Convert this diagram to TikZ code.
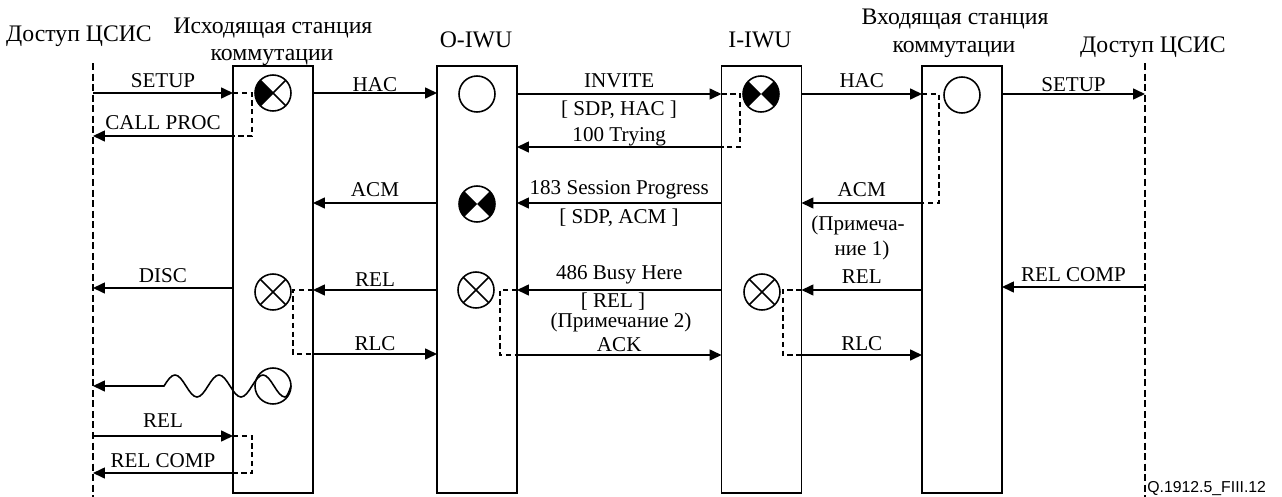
\documentclass[tikz,border=0pt]{standalone}
\usepackage{fontspec}
\setmainfont{Liberation Serif}
\newfontfamily\figfont{Liberation Sans}
\usetikzlibrary{arrows.meta,positioning,calc}
\newcommand\msgsize{\fontsize{12}{14}\selectfont}
\newcommand\ttlsize{\fontsize{13.5}{16}\selectfont}
\tikzset{
  stn/.style={draw,line width=1.1pt,minimum width=1.6cm,minimum height=8.54cm,inner sep=0pt,outer sep=0pt},
  msg/.style={line width=0.9pt,-{Triangle[length=0.24cm,width=0.22cm]}},
  lnk/.style={line width=0.75pt,dash pattern=on 3pt off 2pt},
  life/.style={line width=0.75pt,dash pattern=on 4pt off 2pt},
  lbl/.style={font=\msgsize,inner sep=0pt,text depth=0pt},
  ttl/.style={font=\ttlsize,inner sep=0pt,anchor=base},
  sig/.style={circle,draw,line width=0.9pt,minimum size=0.72cm,inner sep=0pt,outer sep=0pt,fill=white},
  sigx/.style={sig,path picture={\draw[black,line width=0.9pt] (path picture bounding box.north west)--(path picture bounding box.south east) (path picture bounding box.south west)--(path picture bounding box.north east);}},
  sigl/.style={sig,path picture={\fill[black] (path picture bounding box.center)--(path picture bounding box.north west)--(path picture bounding box.south west)--cycle;
    \draw[black,line width=0.9pt] (path picture bounding box.north west)--(path picture bounding box.south east) (path picture bounding box.south west)--(path picture bounding box.north east);}},
  siglr/.style={sig,path picture={\fill[black] (path picture bounding box.center)--(path picture bounding box.north west)--(path picture bounding box.south west)--cycle;
    \fill[black] (path picture bounding box.center)--(path picture bounding box.north east)--(path picture bounding box.south east)--cycle;}}
}
\begin{document}
\begin{tikzpicture}[x=0.02cm,y=-0.02cm]
\useasboundingbox (0,0) rectangle (1282,497);
\node[stn] (os) at (273,279.5) {};\node[stn] (oiwu) at (477,279.5) {};
\node[stn] (iiwu) at (761.5,279.5) {};\node[stn] (ts) at (962,279.5) {};
\coordinate (pl) at (93,63);\coordinate (pr) at (1145,63);
\draw[life] (pl)--(pl|-0,497);\draw[life] (pr)--(pr|-0,497);
\node[ttl] (tpl) at (79,41) {Доступ ЦСИС};\node[ttl] (tpr) at (1153,52) {Доступ ЦСИС};
\node[ttl] (tos) at (273,33) {Исходящая станция};\node[ttl] (tos2) at (272,60) {коммутации};
\node[ttl] (tts) at (955,25) {Входящая станция};\node[ttl] (tts2) at (954,52) {коммутации};
\node[ttl] (toi) at (476,48) {O-IWU};\node[ttl] (tii) at (760,48) {I-IWU};
\node[sigl] (c1) at (273,93) {};\node[sig] (c2) at (477,94) {};\node[siglr] (c3) at (761,94) {};\node[sig] (c4) at (962,95) {};
\node[siglr] (c5) at (477,204) {};
\node[sigx] (c6) at (273,292) {};\node[sigx] (c7) at (476,290) {};\node[sigx] (c8) at (762,292) {};
\node[sig] (c9) at (273,386) {};
\draw[msg] (pl|-0,93)--(os.west|-0,93) node[lbl,midway,above=0.1cm] {SETUP};
\draw[msg] (os.west|-0,136)--(pl|-0,136) node[lbl,midway,above=0.12cm] {CALL PROC};
\draw[msg] (os.east|-0,93)--(oiwu.west|-0,93) node[lbl,midway,above=0.02cm] {HAC};
\draw[msg] (oiwu.east|-0,94)--(iiwu.west|-0,94) node[lbl,midway,above=0.12cm] {INVITE};
\draw[msg] (iiwu.west|-0,147)--(oiwu.east|-0,147) node[lbl,midway,above=0.1cm] {100 Trying};
\draw[msg] (iiwu.east|-0,94)--(ts.west|-0,94) node[lbl,midway,above=0.12cm] {HAC};
\draw[msg] (ts.east|-0,94)--(pr|-0,94) node[lbl,midway,above=0.04cm] {SETUP};
\draw[msg] (oiwu.west|-0,203)--(os.east|-0,203) node[lbl,midway,above=0.12cm] {ACM};
\draw[msg] (iiwu.west|-0,203)--(oiwu.east|-0,203) node[lbl,midway,above=0.16cm] {183 Session Progress};
\draw[msg] (ts.west|-0,203)--(iiwu.east|-0,203) node[lbl,midway,above=0.12cm] {ACM};
\draw[msg] (os.west|-0,288)--(pl|-0,288) node[lbl,midway,above=0.1cm] {DISC};
\draw[msg] (oiwu.west|-0,290)--(os.east|-0,290) node[lbl,midway,above=0.06cm] {REL};
\draw[msg] (iiwu.west|-0,290)--(oiwu.east|-0,290) node[lbl,midway,above=0.2cm] {486 Busy Here};
\draw[msg] (ts.west|-0,290)--(iiwu.east|-0,290) node[lbl,midway,above=0.12cm] {REL};
\draw[msg] (pr|-0,287)--(ts.east|-0,287) node[lbl,midway,above=0.1cm] {REL COMP};
\draw[msg] (os.east|-0,354)--(oiwu.west|-0,354) node[lbl,midway,above=0.06cm] {RLC};
\draw[msg] (oiwu.east|-0,355)--(iiwu.west|-0,355) node[lbl,midway,above=0.06cm] {ACK};
\draw[msg] (iiwu.east|-0,355)--(ts.west|-0,355) node[lbl,midway,above=0.08cm] {RLC};
\draw[msg] (pl|-0,436)--(os.west|-0,436) node[lbl,midway,above=0.16cm] {REL};
\draw[msg] (os.west|-0,473)--(pl|-0,473) node[lbl,midway,above=0.1cm] {REL COMP};
\node[lbl,anchor=base] (n1) at (619,115) {[ SDP, HAC ]};\node[lbl,anchor=base] (n2) at (619,223) {[ SDP, ACM ]};
\node[lbl,anchor=base] (n3) at (613,307) {[ REL ]};\node[lbl,anchor=base] (n4) at (621,327) {(Примечание 2)};
\node[lbl,anchor=base] (n5) at (858,230) {(Примеча-};\node[lbl,anchor=base] (n6) at (862,255) {ние 1)};
\draw[lnk] (os.west|-0,93) -| (252,136) -- (os.west|-0,136);
\draw[lnk] (iiwu.west|-0,94) -| (740,147) -- (iiwu.west|-0,147);
\draw[lnk] (ts.west|-0,94) -| (939,203) -- (ts.west|-0,203);
\draw[lnk] (os.west|-0,436) -| (252,473) -- (os.west|-0,473);
\draw[lnk] (os.east|-0,290) -| (293,354) -- (os.east|-0,354);
\draw[lnk] (oiwu.east|-0,290) -| (500,355) -- (oiwu.east|-0,355);
\draw[lnk] (iiwu.east|-0,290) -| (783,355) -- (iiwu.east|-0,355);
\draw[line width=0.9pt,{Triangle[length=0.24cm,width=0.22cm]}-] (pl|-0,386)--(164,386) sin (175,375) cos (186,386) sin (197,397) cos (208,386) sin (219,375) cos (230,386) sin (241,397) cos (252,386) sin (263,375) cos (274,386) sin (285,397) cos (c9.east);
\node[font=\figfont\fontsize{9}{11}\selectfont,inner sep=0pt,anchor=base west] (fig) at (1147,492) {Q.1912.5\_FIII.12};
\end{tikzpicture}
\end{document}
